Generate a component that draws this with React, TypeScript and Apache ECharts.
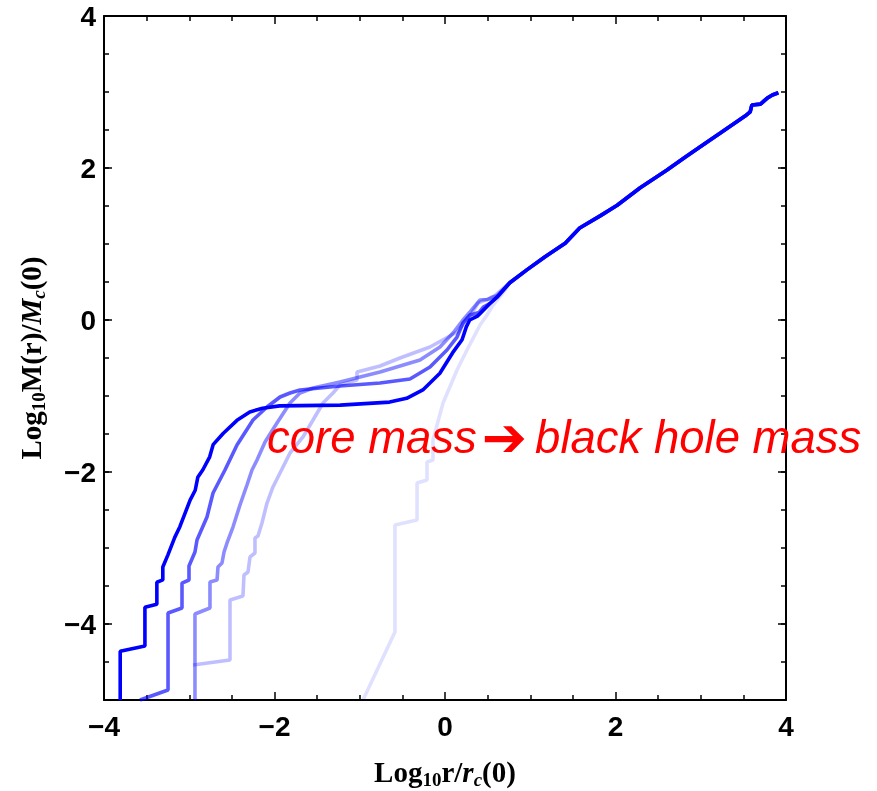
import React, { useEffect, useRef } from 'react';
import * as echarts from 'echarts';

const xTicks = [-4, -2, 0, 2, 4];
const yTicks = [-4, -2, 0, 2, 4];

// shared outer power-law part (all runs converge here)
const outerTail: number[][] = [
  [0.76, 0.49], [0.96, 0.66], [1.17, 0.83], [1.41, 1.01], [1.58, 1.21], [1.82, 1.37],
  [2.02, 1.51], [2.29, 1.74], [2.6, 1.97], [2.82, 2.145], [2.99, 2.276], [3.23, 2.46],
  [3.52, 2.684], [3.58, 2.74], [3.6, 2.83], [3.7, 2.84], [3.78, 2.92], [3.84, 2.96], [3.91, 2.99],
];

const run1: number[][] = [
  [-3.81, -5.0], [-3.81, -4.36], [-3.52, -4.29], [-3.52, -3.78], [-3.38, -3.74], [-3.38, -3.45],
  [-3.31, -3.42], [-3.31, -3.25], [-3.25, -3.09], [-3.17, -2.86], [-3.11, -2.72], [-2.99, -2.37],
  [-2.93, -2.24], [-2.9, -2.07], [-2.84, -1.97], [-2.76, -1.8], [-2.72, -1.64], [-2.6, -1.49],
  [-2.44, -1.32], [-2.29, -1.21], [-2.14, -1.16], [-1.94, -1.13], [-1.23, -1.12], [-0.65, -1.08],
  [-0.45, -1.03], [-0.26, -0.92], [-0.06, -0.7], [0.09, -0.43], [0.2, -0.26], [0.25, -0.09],
  [0.29, 0.0], [0.38, 0.05], [0.45, 0.13], [0.53, 0.22], [0.61, 0.3],
];

const run2: number[][] = [
  [-3.578, -5.0], [-3.249, -4.868], [-3.249, -3.855], [-3.085, -3.789], [-3.085, -3.461],
  [-3.003, -3.421], [-3.003, -3.237], [-2.933, -3.053], [-2.909, -2.895], [-2.792, -2.592],
  [-2.721, -2.276], [-2.581, -1.974], [-2.44, -1.645], [-2.252, -1.316], [-2.088, -1.145],
  [-1.935, -1.013], [-1.818, -0.961], [-1.701, -0.921], [-1.232, -0.868], [-0.762, -0.829],
  [-0.411, -0.776], [-0.176, -0.618], [0.023, -0.395], [0.141, -0.224], [0.211, -0.039],
  [0.293, 0.066], [0.4, 0.1], [0.45, 0.17], [0.53, 0.22], [0.61, 0.3],
];

const run3: number[][] = [
  [-2.933, -5.0], [-2.933, -3.868], [-2.757, -3.789], [-2.757, -3.447], [-2.674, -3.421],
  [-2.663, -3.25], [-2.616, -3.197], [-2.592, -3.053], [-2.557, -2.934], [-2.487, -2.724],
  [-2.405, -2.434], [-2.323, -2.171], [-2.264, -1.974], [-2.205, -1.842], [-2.111, -1.605],
  [-1.971, -1.355], [-1.818, -1.092], [-1.701, -0.961], [-1.548, -0.895], [-1.232, -0.816],
  [-0.762, -0.684], [-0.293, -0.526], [-0.059, -0.355], [0.094, -0.171], [0.211, 0.0],
  [0.293, 0.105], [0.411, 0.263], [0.5, 0.27], [0.55, 0.3], [0.61, 0.32],
];

const run4: number[][] = [
  [-2.956, -4.539], [-2.522, -4.474], [-2.522, -3.684], [-2.37, -3.632], [-2.358, -3.355],
  [-2.311, -3.316], [-2.287, -3.118], [-2.229, -3.066], [-2.229, -2.868], [-2.194, -2.842],
  [-2.147, -2.671], [-2.088, -2.408], [-2.018, -2.197], [-1.9, -1.934], [-1.818, -1.75],
  [-1.666, -1.539], [-1.548, -1.316], [-1.431, -1.092], [-1.314, -0.961], [-1.232, -0.855],
  [-1.032, -0.789], [-1.032, -0.684], [-0.762, -0.605], [-0.528, -0.5], [-0.176, -0.355],
  [0.141, -0.158], [0.235, -0.026], [0.293, 0.053], [0.387, 0.224], [0.469, 0.263], [0.551, 0.289],
];

const run5: number[][] = [
  [-0.962, -5.0], [-0.587, -4.105], [-0.587, -2.697], [-0.328, -2.632], [-0.328, -2.145],
  [-0.211, -2.105], [-0.211, -1.868], [-0.141, -1.842], [-0.141, -1.579], [-0.023, -1.092],
  [0.141, -0.658], [0.258, -0.395], [0.411, -0.066], [0.493, 0.066], [0.563, 0.197], [0.68, 0.355],
];

const annotation = 'core mass';
const annotation2 = 'black hole mass';

const fmt = (v: number) => (v < 0 ? '\u2212' + Math.abs(v) : String(v));

export default function App() {
  const ref = useRef<HTMLDivElement>(null);
  useEffect(() => {
    if (!ref.current) return;
    const chart = echarts.init(ref.current, undefined, { renderer: 'svg' });
    const lbl = {
      fontFamily: 'Liberation Sans',
      fontWeight: 'bold' as const,
      fontSize: 28,
      color: '#000',
    };
    const axisLine = { show: true, onZero: false, lineStyle: { color: '#000', width: 2 } };
    const tickStyle = { color: '#000', width: 1.5 };
    const nameRich = {
      b: { fontFamily: 'Liberation Serif', fontWeight: 'bold', fontSize: 29, color: '#000', lineHeight: 34 },
      s: { fontFamily: 'Liberation Serif', fontWeight: 'bold', fontSize: 19, color: '#000', lineHeight: 18, verticalAlign: 'bottom' },
      i: { fontFamily: 'Liberation Serif', fontWeight: 'bold', fontStyle: 'italic', fontSize: 29, color: '#000', lineHeight: 34 },
      si: { fontFamily: 'Liberation Serif', fontWeight: 'bold', fontStyle: 'italic', fontSize: 19, color: '#000', lineHeight: 18, verticalAlign: 'bottom' },
    };
    const mk = (data: number[][], color: string, opacity: number, z: number) => ({
      type: 'line',
      data: data.concat(outerTail),
      showSymbol: false,
      symbol: 'none',
      z,
      lineStyle: { color, width: 3.6, opacity },
      itemStyle: { color },
    });
    chart.setOption({
      animation: false,
      grid: { left: 104, top: 16, width: 682, height: 684, outerBoundsMode: 'none', containLabel: false },
      xAxis: [
        {
          type: 'value', min: -4, max: 4, interval: 2, position: 'bottom',
          axisLine, splitLine: { show: false },
          axisTick: { inside: true, length: 8, lineStyle: tickStyle },
          minorTick: { show: true, splitNumber: 4, length: 5, lineStyle: tickStyle },
          axisLabel: { ...lbl, margin: 12, formatter: fmt },
          name: '{b|Log}{s|10}{b|r/}{i|r}{si|c}{b|(0)}',
          nameLocation: 'middle', nameGap: 55,
          nameTextStyle: { rich: nameRich },
        },
        {
          type: 'value', min: -4, max: 4, interval: 2, position: 'top',
          axisLine, splitLine: { show: false },
          axisTick: { inside: true, length: 8, lineStyle: tickStyle },
          minorTick: { show: true, splitNumber: 4, length: 5, lineStyle: tickStyle },
          axisLabel: { show: false },
        },
      ],
      yAxis: [
        {
          type: 'value', min: -5, max: 4, interval: 0.5, position: 'left',
          axisLine, splitLine: { show: false },
          axisTick: { inside: true, length: 5, lineStyle: tickStyle },
          axisLabel: { ...lbl, margin: 8, formatter: (v: number) => (yTicks.includes(v) ? fmt(v) : '') },
          name: '{b|Log}{s|10}{b|M(r)/}{i|M}{si|c}{b|(0)}',
          nameLocation: 'middle', nameGap: 56, nameRotate: 90,
          nameTextStyle: { rich: nameRich },
        },
        {
          type: 'value', min: -5, max: 4, position: 'left',
          axisLine: { show: false, onZero: false }, splitLine: { show: false },
          axisTick: { inside: true, length: 8, lineStyle: tickStyle, customValues: yTicks },
          axisLabel: { show: false },
        },
        {
          type: 'value', min: -5, max: 4, interval: 0.5, position: 'right',
          axisLine, splitLine: { show: false },
          axisTick: { inside: true, length: 5, lineStyle: tickStyle },
          axisLabel: { show: false },
        },
        {
          type: 'value', min: -5, max: 4, position: 'right',
          axisLine: { show: false, onZero: false }, splitLine: { show: false },
          axisTick: { inside: true, length: 8, lineStyle: tickStyle, customValues: yTicks },
          axisLabel: { show: false },
        },
      ],
      series: [
        mk(run5, '#0000ff', 0.12, 1),
        mk(run4, '#0000ff', 0.25, 2),
        mk(run3, '#0000ff', 0.45, 3),
        mk(run2, '#0000ff', 0.65, 4),
        mk(run1, '#0000ff', 1, 5),
      ],
      graphic: [
        {
          type: 'text',
          x: 267,
          y: 437,
          z: 100,
          style: {
            text: '{n|' + annotation + '}{a|\u2794}{n|' + annotation2 + '}',
            verticalAlign: 'middle',
            rich: {
              n: { fontFamily: 'Liberation Sans', fontStyle: 'italic', fontSize: 45.5, fill: '#ff0000', color: '#ff0000', lineHeight: 52 },
              a: { fontFamily: 'DejaVu Sans', fontSize: 54, fill: '#ff0000', color: '#ff0000', lineHeight: 52, padding: [0, 8, 0, 5] },
            },
          },
        },
      ],
    });
    return () => chart.dispose();
  }, []);
  return <div ref={ref} style={{ position: 'fixed', left: 0, top: 0, width: 877, height: 791 }} />;
}
